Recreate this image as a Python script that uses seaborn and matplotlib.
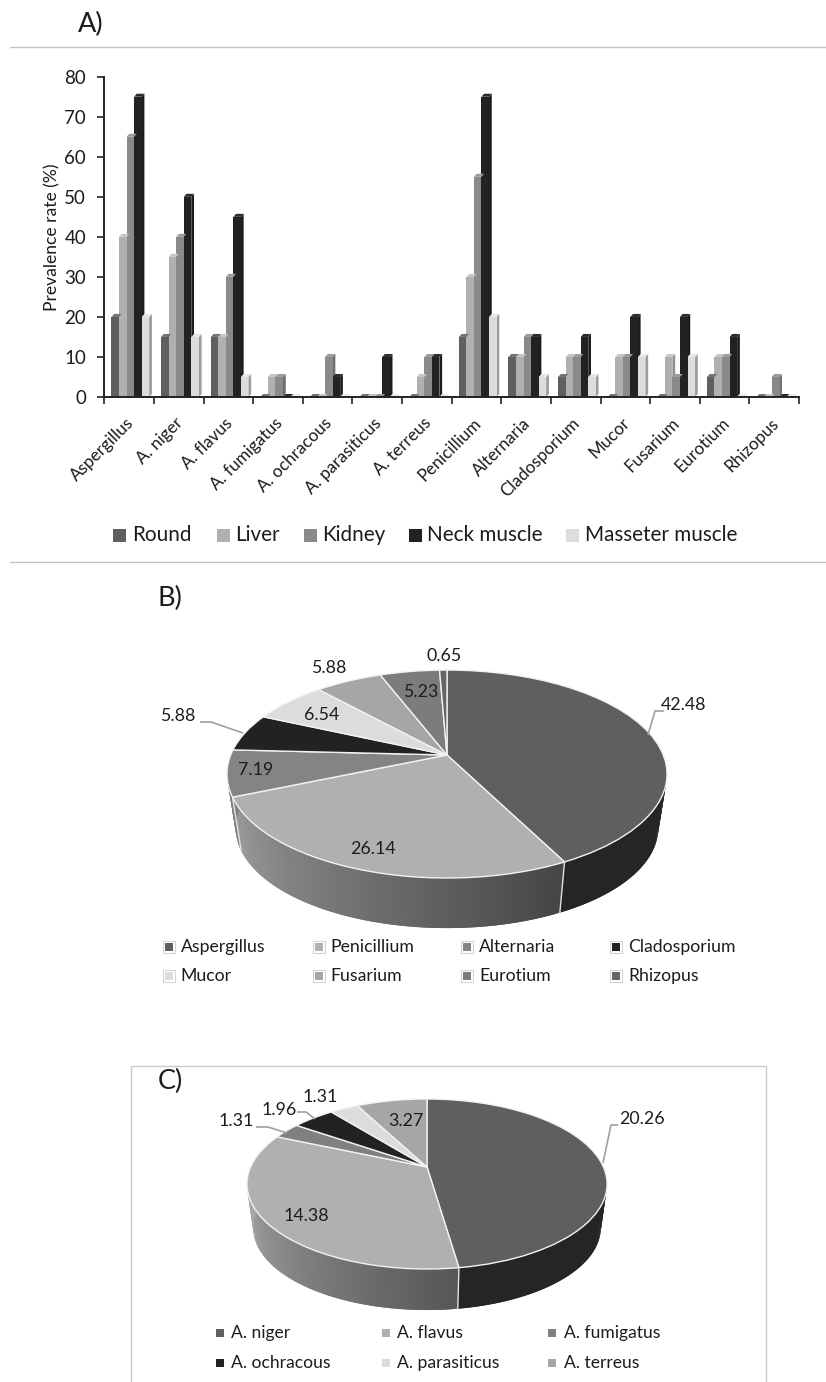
import numpy as np
import pandas as pd
import matplotlib
matplotlib.use("Agg")
import matplotlib.pyplot as plt
from matplotlib.patches import Polygon, Rectangle
from matplotlib.transforms import Transform, ScaledTranslation
import seaborn as sns

# ---------- data ----------
genera = ["Aspergillus", "A. niger", "A. flavus", "A. fumigatus", "A. ochracous",
          "A. parasiticus", "A. terreus", "Penicillium", "Alternaria", "Cladosporium",
          "Mucor", "Fusarium", "Eurotium", "Rhizopus"]
tissues = ["Round", "Liver", "Kidney", "Neck muscle", "Masseter muscle"]
round_vals = [20, 15, 15, 0, 0, 0, 0, 15, 10, 5, 0, 0, 5, 0]
liver_vals = [40, 35, 15, 5, 0, 0, 5, 30, 10, 10, 10, 10, 10, 0]
kidney_vals = [65, 40, 30, 5, 10, 0, 10, 55, 15, 10, 10, 5, 10, 5]
neck_vals = [75, 50, 45, 0, 5, 10, 10, 75, 15, 15, 20, 20, 15, 0]
masseter_vals = [20, 15, 5, 0, 0, 0, 0, 20, 5, 5, 10, 10, 0, 0]

pie_b_names = ["Aspergillus", "Penicillium", "Alternaria", "Cladosporium",
               "Mucor", "Fusarium", "Eurotium", "Rhizopus"]
pie_b_vals = [42.48, 26.14, 7.19, 5.88, 6.54, 5.88, 5.23, 0.65]
pie_c_names = ["A. niger", "A. flavus", "A. fumigatus", "A. ochracous", "A. parasiticus", "A. terreus"]
pie_c_vals = [20.26, 14.38, 1.31, 1.96, 1.31, 3.27]

# ---------- style ----------
W, H = 826, 1382
sns.set_theme(style="white")
plt.rcParams["font.family"] = ["Lato", "DejaVu Sans"]
TXT = "#1c1c1c"
tissue_cols = ["#5f5f5f", "#b0b0b0", "#8a8a8a", "#222222", "#dcdcdc"]
pie_b_cols = ["#5f5f5f", "#b0b0b0", "#848484", "#222222", "#dcdcdc", "#a6a6a6", "#7c7c7c", "#666666"]
pie_c_cols = ["#5f5f5f", "#b0b0b0", "#808080", "#222222", "#dcdcdc", "#a6a6a6"]

fig = plt.figure(figsize=(W / 100, H / 100), dpi=100, facecolor="white")


def box(x0, y0, x1, y1):
    return [x0 / W, 1 - y1 / H, (x1 - x0) / W, (y1 - y0) / H]


canvas = fig.add_axes([0, 0, 1, 1], zorder=1)
canvas.patch.set_alpha(0)

# ---------- panel A ----------
ax = fig.add_axes(box(104.3, 76.7, 799, 397), zorder=2)
ax.patch.set_alpha(0)
df = pd.DataFrame({"Genus": genera, "Round": round_vals, "Liver": liver_vals, "Kidney": kidney_vals,
                   "Neck muscle": neck_vals, "Masseter muscle": masseter_vals})
long_df = df.melt(id_vars="Genus", var_name="Tissue", value_name="Rate")
sns.barplot(data=long_df, x="Genus", y="Rate", hue="Tissue", order=genera, hue_order=tissues,
            palette=tissue_cols, width=0.76, gap=0, saturation=1, legend=False, ax=ax,
            zorder=3, linewidth=0, errorbar=None)
side_cols = ["#4a4a4a", "#8e8e8e", "#6c6c6c", "#1c1c1c", "#9c9c9c"]
cap_cols = ["#747474", "#c6c6c6", "#9c9c9c", "#2c2c2c", "#e8e8e8"]
dx, dy, shift = 0.055, 0.75, 0.025
for cont, sc, cc in zip(ax.containers, side_cols, cap_cols):
    for p in cont.patches:
        p.set_x(p.get_x() + shift)
        x0, w, h = p.get_x(), p.get_width(), p.get_height()
        ax.add_patch(Polygon([(x0 + w, 0), (x0 + w + dx, dy), (x0 + w + dx, h + dy), (x0 + w, h)],
                             facecolor=sc, edgecolor="none", zorder=2))
        ax.add_patch(Polygon([(x0, h), (x0 + w, h), (x0 + w + dx, h + dy), (x0 + dx, h + dy)],
                             facecolor=cc, edgecolor="none", zorder=3.5))
ax.set_xlim(-0.5, len(genera) - 0.5)
ax.set_ylim(0, 80)
ax.set_yticks(range(0, 81, 10))
ax.set_xlabel("")
ax.set_ylabel("Prevalence rate (%)", fontsize=12.6, color=TXT)
ax.yaxis.set_label_coords((60 - 104.3) / 694.7, 0.5)
ax.set_xticks(np.arange(len(genera)))
ax.set_xticks(np.arange(len(genera) + 1) - 0.5, minor=True)
ax.set_xticklabels(genera, rotation=45, ha="right", va="center", rotation_mode="anchor",
                   fontsize=12.3, color=TXT)
ax.tick_params(axis="x", which="major", length=0, pad=17)
ax.tick_params(axis="x", which="minor", length=5, width=1.2, color="#222222", direction="out", bottom=True)
ax.tick_params(axis="y", length=5, width=1.2, color="#222222", labelsize=13.5, labelcolor=TXT, left=True, pad=8)
nudge = ScaledTranslation(2 / 100, 0, fig.dpi_scale_trans)
for lab in ax.get_xticklabels():
    lab.set_transform(lab.get_transform() + nudge)
for s in ["top", "right"]:
    ax.spines[s].set_visible(False)
for s in ["left", "bottom"]:
    ax.spines[s].set_color("#222222")
    ax.spines[s].set_linewidth(1.4)
    ax.spines[s].set_zorder(6)


# ---------- 3D pies ----------
class Tilt(Transform):
    input_dims = output_dims = 2
    is_separable = False
    has_inverse = False

    def __init__(self, cx, cy, a, b, k):
        super().__init__()
        self.cx, self.cy, self.a, self.b, self.k = cx, cy, a, b, k

    def transform_non_affine(self, values):
        v = np.asarray(values, dtype=float)
        w = 1 + self.k * v[:, 1]
        return np.column_stack([self.cx + self.a * v[:, 0] / w, self.cy - self.b * v[:, 1] / w])


def clock_xy(t_deg):
    t = np.radians(t_deg)
    return np.column_stack([np.sin(t), np.cos(t)])


def wall_grey(t_deg, scale):
    g = np.clip(0x42 + (t_deg - 150) / 110 * (0xa8 - 0x42), 0x3c, 0xaa) * scale / 255
    return (g, g, g)


def pie3d(values, colors, cx, cy, a, b, k, drop, shrink):
    top = Tilt(cx, cy, a, b, k)
    low = Tilt(cx, cy + drop, a * shrink, b * shrink, k)
    edges = np.concatenate([[0], np.cumsum(values)]) / np.sum(values) * 360
    for i, (t0, t1) in enumerate(zip(edges[:-1], edges[1:])):
        lo, hi = max(t0, 90), min(t1, 270)
        if hi <= lo:
            continue
        ts = np.append(np.arange(lo, hi, 1.0), hi)
        scale = int(colors[i][1:3], 16) / 0xb0
        for u0, u1 in zip(ts[:-1], ts[1:]):
            seg = np.array([u0, min(u1 + 1.0, hi)])  # each strip runs under the next one, so no seams
            up = top.transform_non_affine(clock_xy(seg))
            dn = low.transform_non_affine(clock_xy(seg[::-1]))
            col = "#252525" if i == 0 else wall_grey(0.5 * (u0 + u1), min(scale, 1))
            canvas.fill(*np.vstack([up, dn]).T, facecolor=col, edgecolor="none", linewidth=0, zorder=1)
    for t in edges[1:-1]:
        if 100 < t < 250:
            p = np.vstack([top.transform_non_affine(clock_xy(np.array([t]))),
                           low.transform_non_affine(clock_xy(np.array([t])))])
            canvas.plot(p[:, 0], p[:, 1], color="#e4e4e4", lw=1, zorder=1.5)
    wedges, _ = canvas.pie(values, colors=colors, startangle=90, counterclock=False,
                           labeldistance=None, radius=1,
                           wedgeprops=dict(edgecolor="#f2f2f2", linewidth=1))
    for wd in wedges:
        wd.set_transform(top + canvas.transData)
        wd.set_zorder(2)


pie3d(pie_b_vals, pie_b_cols, 447, 755, 216.3, 100.5, 0.183, 55, 0.96)
pie3d(pie_c_vals, pie_c_cols, 427, 1167, 176.4, 81.6, 0.2, 44.6, 0.965)

canvas.set_aspect("auto")
canvas.set_xlim(0, W)
canvas.set_ylim(H, 0)
canvas.set_axis_off()


def label(x, y, s, size=12.8, **kw):
    canvas.text(x, y, s, fontsize=size, color=TXT, ha=kw.pop("ha", "center"), va="center", zorder=5, **kw)


def leader(xs, ys):
    canvas.plot(xs, ys, color="#a0a0a0", lw=1.2, zorder=4, solid_capstyle="butt")


# pie labels
for (x, y), v in zip([(684, 705), (373, 849), (256, 770), (178, 716), (322, 715), (329, 668), (421, 692), (444, 656)],
                     pie_b_vals):
    label(x, y, f"{v:.2f}")
leader([648, 655, 664], [735, 711, 711])
leader([200, 211, 243], [722, 722, 733])

for (x, y), v in zip([(642, 1119), (306, 1216), (236, 1121), (279, 1110), (320, 1097), (406, 1121)], pie_c_vals):
    label(x, y, f"{v:.2f}")
leader([603, 611, 618], [1163, 1125, 1125])
leader([256, 268, 287], [1127, 1127, 1133])
leader([297, 306, 315], [1112, 1112, 1119])


# legends
def legend_item(x, y, name, color, size, fs, tx, border=False):
    if border:
        canvas.add_patch(Rectangle((x - size / 2 - 2, y - size / 2 - 2), size + 4, size + 4, facecolor="white",
                                   edgecolor="#d4d4d4", lw=0.8, zorder=3))
    canvas.add_patch(Rectangle((x - size / 2, y - size / 2), size, size, facecolor=color, edgecolor="none", zorder=4))
    canvas.text(tx, y, name, fontsize=fs, color=TXT, ha="left", va="center", zorder=5)


for name, col, x, tx in zip(tissues, tissue_cols, [119, 223, 310, 415, 572], [132, 235, 322, 427, 585]):
    legend_item(x, 535, name, col, 13, 14.9, tx)

for i, (name, col) in enumerate(zip(pie_b_names, pie_b_cols)):
    r, c = divmod(i, 4)
    legend_item([169, 319, 467, 616][c], [947, 976][r], name, col, 8, 12.7, [180.5, 330, 479, 628][c], border=True)

for i, (name, col) in enumerate(zip(pie_c_names, pie_c_cols)):
    r, c = divmod(i, 3)
    legend_item([220, 386, 552][c], [1333, 1363][r], name, col, 8, 12.6, [231, 397, 564][c])

# panel letters and rules
label(91, 24, "A)", size=19.5)
label(170, 598, "B)", size=19.5)
label(170, 1081, "C)", size=19.5)
canvas.plot([10, W], [47, 47], color="#c4c4c4", lw=1, zorder=0.5)
canvas.plot([10, W], [562, 562], color="#c4c4c4", lw=1, zorder=0.5)
canvas.plot([130.5, 130.5, 765.5, 765.5], [H, 1065.5, 1065.5, H], color="#c8c8c8", lw=1, zorder=0.5)

fig.savefig("out.png", dpi=100)
